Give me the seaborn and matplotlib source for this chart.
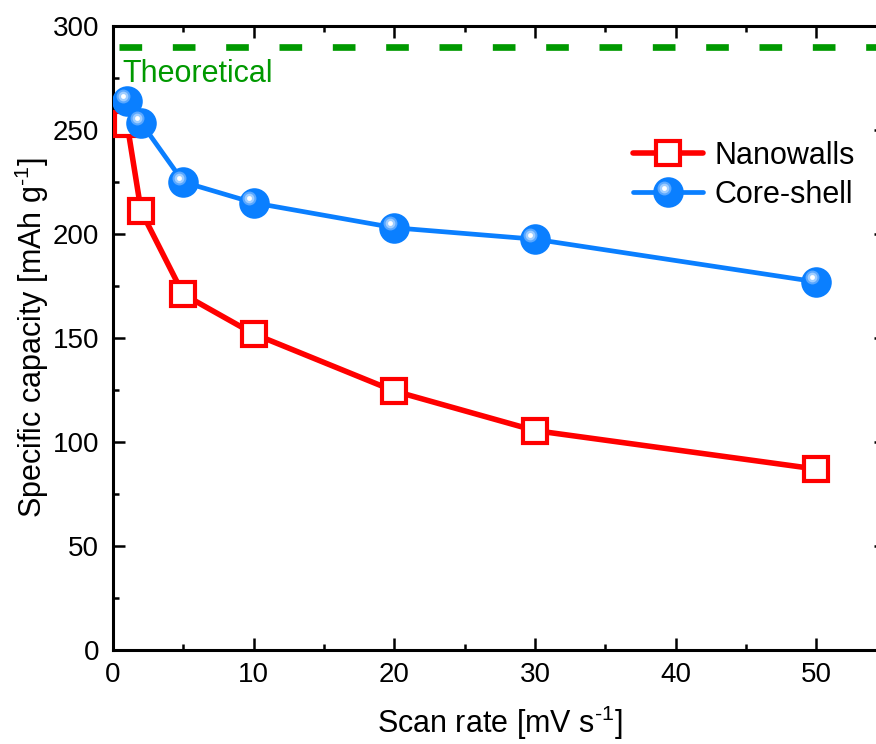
import matplotlib
matplotlib.use("Agg")
import matplotlib.pyplot as plt
import matplotlib.transforms as mtransforms
from matplotlib.lines import Line2D
from matplotlib.legend_handler import HandlerLine2D
from matplotlib.ticker import MultipleLocator
import seaborn as sns
import pandas as pd

scan_rate = [1, 2, 5, 10, 20, 30, 50]
nanowalls = [253, 211, 171, 152, 124.5, 105.5, 87]
core_shell = [264, 253.5, 225, 215, 203, 197.5, 177]
theoretical = 290

sns.set_theme(style="ticks")
plt.rcParams['font.family'] = ['Liberation Sans', 'DejaVu Sans']
plt.rcParams['mathtext.fontset'] = 'custom'
plt.rcParams['mathtext.rm'] = 'Liberation Sans'
plt.rcParams['mathtext.it'] = 'Liberation Sans'
plt.rcParams['text.color'] = 'black'
plt.rcParams['axes.labelcolor'] = 'black'

fig = plt.figure(figsize=(8.76, 7.44), dpi=100)
W, H = 876, 744
left, right, top, bottom = 113, 886.5, 26, 650
ax = fig.add_axes([left / W, (H - bottom) / H, (right - left) / W, (bottom - top) / H])

red = "#ff0000"
blue = "#0a7fff"
green = "#009900"

ax.axhline(theoretical, xmin=0.008, xmax=1, color=green, lw=4.8, dashes=(3.4, 4.6))
ax.text(0.65, 277, "Theoretical", color=green, fontsize=22, va="center", ha="left")

df = pd.DataFrame({"x": scan_rate, "n": nanowalls, "c": core_shell})
sq_kw = dict(marker="s", markersize=17.5, markerfacecolor="white", markeredgecolor=red,
             markeredgewidth=3)
ci_kw = dict(marker="o", markersize=22, markerfacecolor=blue, markeredgewidth=0)
sns.lineplot(data=df, x="x", y="n", ax=ax, color=red, lw=4.0, zorder=3, **sq_kw)
sns.lineplot(data=df, x="x", y="c", ax=ax, color=blue, lw=3.4, zorder=4, **ci_kw)

# sphere highlights
t1 = mtransforms.offset_copy(ax.transData, fig=fig, x=-3.2, y=3.2, units="points")
hl = [(10, "#5aa8ff"), (7, "#9fcdff"), (3.5, "white")]
for i, (ms, col) in enumerate(hl):
    ax.plot(scan_rate, core_shell, ls="none", marker="o", markersize=ms, color=col,
            mew=0, transform=t1, zorder=5 + i)

ax.set_xlim(0, 55)
ax.set_ylim(0, 300)
ax.xaxis.set_major_locator(MultipleLocator(10))
ax.xaxis.set_minor_locator(MultipleLocator(5))
ax.yaxis.set_major_locator(MultipleLocator(50))
ax.yaxis.set_minor_locator(MultipleLocator(25))
ax.tick_params(which="both", direction="in", top=True, right=True, width=1.8, labelsize=20, colors="black")
ax.tick_params(which="major", length=8.5)
ax.tick_params(which="minor", length=4.5)
ax.tick_params(axis="x", pad=9)
ax.tick_params(axis="y", pad=10)
for s in ax.spines.values():
    s.set_linewidth(2.2)
    s.set_color("black")

ax.set_xlabel(r"Scan rate [mV s$^{\text{-1}}$]", fontsize=22, labelpad=11)
ax.set_ylabel(r"Specific capacity [mAh g$^{\text{-1}}$]", fontsize=22, labelpad=1)


class SphereHandler(HandlerLine2D):
    def create_artists(self, legend, orig_handle, xdescent, ydescent, width, height, fontsize, trans):
        arts = super().create_artists(legend, orig_handle, xdescent, ydescent, width, height, fontsize, trans)
        xc = width / 2 - xdescent
        yc = height / 2 - ydescent
        off = mtransforms.offset_copy(trans, fig=legend.figure, x=-3.2, y=3.2, units="points")
        for i, (ms, col) in enumerate(hl):
            a = Line2D([xc], [yc], ls="none", marker="o", markersize=ms, color=col, mew=0)
            a.set_transform(off)
            arts.append(a)
        return arts


h_n = Line2D([], [], color=red, lw=4.0, **sq_kw)
h_c = Line2D([], [], color=blue, lw=3.4, **ci_kw)
ax.legend([h_n, h_c], ["Nanowalls", "Core-shell"], loc="upper left", bbox_to_anchor=(0.637, 0.86),
          frameon=False, fontsize=22, handlelength=2.3, labelspacing=0.3, handletextpad=0.35,
          handler_map={h_c: SphereHandler()})

fig.savefig("out.png", dpi=100)
